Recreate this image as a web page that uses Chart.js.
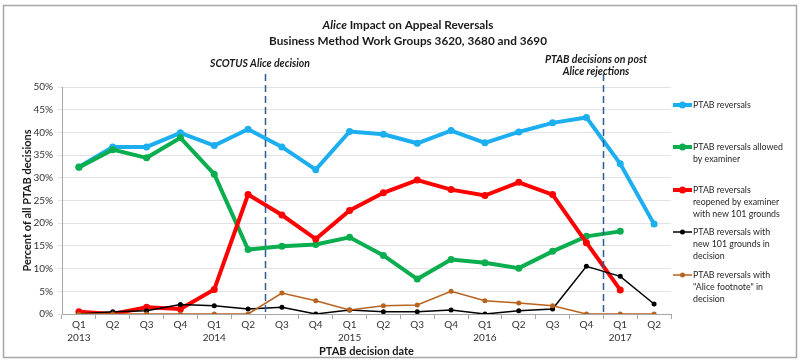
<!DOCTYPE html>
<html><head><meta charset="utf-8">
<script src="https://cdn.jsdelivr.net/npm/chart.js@4/dist/chart.umd.min.js"></script>
<style>html,body{margin:0;padding:0;background:#fff;}#wrap{position:relative;width:800px;height:364px;}</style>
</head><body><div id="wrap"><canvas id="c" width="800" height="364"></canvas></div>
<script>
const quarters = ['Q1','Q2','Q3','Q4','Q1','Q2','Q3','Q4','Q1','Q2','Q3','Q4','Q1','Q2','Q3','Q4','Q1','Q2'];
const years = ['2013','','','','2014','','','','2015','','','','2016','','','','2017',''];
const ptabReversals = [32.4,36.8,36.8,39.9,37.1,40.7,36.8,31.8,40.2,39.6,37.6,40.4,37.7,40.1,42.1,43.3,33.1,19.8];
const allowedByExaminer = [32.3,36.2,34.4,38.8,30.8,14.2,14.9,15.3,16.9,12.9,7.7,12.0,11.3,10.1,13.8,17.1,18.2,null];
const reopenedNew101 = [0.5,0.0,1.5,1.1,5.4,26.3,21.8,16.5,22.8,26.7,29.5,27.4,26.1,29.0,26.3,15.7,5.3,null];
const new101InDecision = [0.0,0.5,0.7,2.1,1.8,1.1,1.5,0.0,0.9,0.5,0.5,0.9,0.0,0.7,1.1,10.5,8.3,2.2];
const aliceFootnote = [0,0,0,0,0,0,4.6,2.9,0.9,1.8,2.0,5.0,2.9,2.4,1.8,0,0,0];
const yTickValues = [0,5,10,15,20,25,30,35,40,45,50];
const seriesNames = [
  ['PTAB reversals'],
  ['PTAB reversals allowed','by examiner'],
  ['PTAB reversals','reopened by examiner','with new 101 grounds'],
  ['PTAB reversals with','new 101 grounds in','decision'],
  ['PTAB reversals with','"Alice footnote" in','decision']
];
const titleLine1Italic = 'Alice';
const titleLine1Rest = ' Impact on Appeal Reversals';
const titleLine2 = 'Business Method Work Groups 3620, 3680 and 3690';
const eventLabels = [['SCOTUS Alice decision'], ['PTAB decisions on post','Alice rejections']];
const eventBoundaries = [5, 15]; // dashed line after these category indexes

const FONT = 'Lato, "Liberation Sans", sans-serif';
const labels = quarters.map((q,i)=> [q, years[i]]);

function fitSize(ctx, text, style, target, start){
  let s = start;
  for(let k=0;k<40;k++){
    ctx.font = style + ' ' + s + 'px ' + FONT;
    const w = ctx.measureText(text).width;
    if (Math.abs(w-target) < 0.5) break;
    s = s * target / w;
  }
  return s;
}

const decor = {
  id: 'decor',
  beforeDraw(chart){
    const ctx = chart.ctx;
    ctx.save();
    ctx.fillStyle = '#fff';
    ctx.fillRect(0,0,chart.width,chart.height);
    ctx.strokeStyle = '#a6a6a6';
    ctx.lineWidth = 1.5;
    ctx.strokeRect(3.5,5.5,793,352);
    ctx.restore();
  },
  afterDatasetsDraw(chart){
    const ctx = chart.ctx;
    const xs = chart.scales.x;
    const area = chart.chartArea;
    ctx.save();
    ctx.strokeStyle = '#2E5A97';
    ctx.lineWidth = 1.5;
    ctx.setLineDash([7,4]);
    eventBoundaries.forEach(i=>{
      const x = Math.round((xs.getPixelForValue(i)+xs.getPixelForValue(i+1))/2)+0.5;
      ctx.beginPath();
      ctx.moveTo(x, 74);
      ctx.lineTo(x, area.bottom);
      ctx.stroke();
    });
    ctx.setLineDash([]);
    ctx.fillStyle = '#1a1a1a';
    ctx.textBaseline = 'middle';
    ctx.textAlign = 'left';
    const ts = fitSize(ctx, titleLine2, 'bold', 278, 13);
    ctx.font = 'bold ' + ts + 'px ' + FONT;
    const w2 = ctx.measureText(titleLine2).width;
    ctx.fillText(titleLine2, 408 - w2/2, 41);
    ctx.font = 'italic bold ' + ts + 'px ' + FONT;
    const wi = ctx.measureText(titleLine1Italic).width;
    ctx.font = 'bold ' + ts + 'px ' + FONT;
    const wr = ctx.measureText(titleLine1Rest).width;
    const x1 = 408 - (wi+wr)/2;
    ctx.font = 'italic bold ' + ts + 'px ' + FONT;
    ctx.fillText(titleLine1Italic, x1, 25);
    ctx.font = 'bold ' + ts + 'px ' + FONT;
    ctx.fillText(titleLine1Rest, x1+wi, 25);
    ctx.textAlign = 'center';
    const es = fitSize(ctx, eventLabels[0][0], 'italic bold', 100, 10);
    ctx.font = 'italic bold ' + es + 'px ' + FONT;
    ctx.fillText(eventLabels[0][0], 260, 64);
    ctx.fillText(eventLabels[1][0], 596, 60);
    ctx.fillText(eventLabels[1][1], 596, 72);
    const legY = [105, 147, 190, 232, 275];
    ctx.textAlign = 'left';
    const ls = fitSize(ctx, 'PTAB reversals allowed', 'normal', 90, 10);
    chart.data.datasets.forEach((ds, i)=>{
      const y = legY[i];
      ctx.strokeStyle = ds.borderColor;
      ctx.lineWidth = ds.borderWidth;
      ctx.beginPath();
      ctx.moveTo(673, y); ctx.lineTo(692, y); ctx.stroke();
      ctx.fillStyle = ds.borderColor;
      ctx.beginPath();
      ctx.arc(682.5, y, ds.pointRadius, 0, Math.PI*2);
      ctx.fill();
      ctx.fillStyle = '#262626';
      ctx.font = 'normal ' + ls + 'px ' + FONT;
      seriesNames[i].forEach((t, j)=>{
        ctx.fillText(t, 693, y + j*12);
      });
    });
    ctx.restore();
  }
};

function ds(name, data, color, width, radius, order){
  return {label: name.join(' '), data, borderColor: color, backgroundColor: color,
    borderWidth: width, pointRadius: radius, pointBackgroundColor: color, pointBorderColor: color,
    pointBorderWidth: 0, tension: 0, spanGaps: false, order};
}

new Chart(document.getElementById('c'), {
  type: 'line',
  data: {
    labels,
    datasets: [
      ds(seriesNames[0], ptabReversals, '#1CAEEF', 4, 3.5, 5),
      ds(seriesNames[1], allowedByExaminer, '#0AAE4E', 4, 3.5, 4),
      ds(seriesNames[2], reopenedNew101, '#FF0000', 4, 3.5, 3),
      ds(seriesNames[3], new101InDecision, '#000000', 1.5, 2.5, 2),
      ds(seriesNames[4], aliceFootnote, '#B8621E', 1.5, 2.5, 1)
    ]
  },
  options: {
    responsive: false,
    animation: false,
    layout: {padding: {top: 87, right: 129, left: 0, bottom: 0}},
    plugins: {legend: {display: false}, title: {display: false}, tooltip: {enabled: false}},
    scales: {
      x: {
        offset: true,
        grid: {offset: true, drawOnChartArea: false, drawTicks: true, tickLength: 5, color: '#a6a6a6'},
        border: {color: '#a6a6a6'},
        ticks: {maxRotation: 0, autoSkip: false, padding: 0, color: '#333', font: {family: FONT, size: 10, lineHeight: 1.25}},
        title: {display: true, text: 'PTAB decision date', color: '#1a1a1a', font: {family: FONT, size: 11, weight: 'bold'}, padding: {top: 0, bottom: 6}},
        afterFit(s){ s.height = 50; }
      },
      y: {
        min: 0, max: 50,
        afterBuildTicks(s){ s.ticks = yTickValues.map(v=>({value: v})); },
        grid: {color: '#e3e3e3', tickLength: 4, drawTicks: true},
        border: {color: '#a6a6a6'},
        ticks: {padding: 5, color: '#333', font: {family: FONT, size: 10}, callback: v => v + '%'},
        title: {display: true, text: 'Percent of all PTAB decisions', color: '#1a1a1a', font: {family: FONT, size: 11, weight: 'bold'}, padding: {top: 21, bottom: 0}},
        afterFit(s){ s.width = 62; }
      }
    }
  },
  plugins: [decor]
});
</script></body></html>
